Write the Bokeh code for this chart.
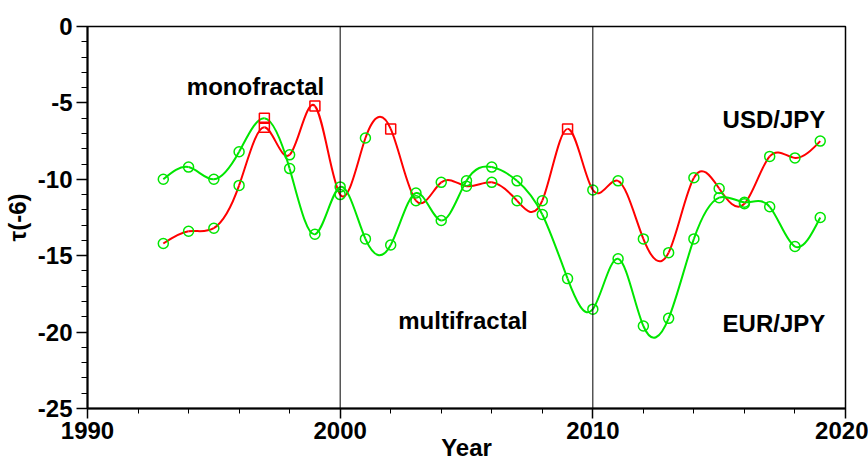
import numpy as np
from bokeh.plotting import figure
from bokeh.models import Span, Label, ColumnDataSource, FixedTicker
from bokeh.embed import file_html
from bokeh.resources import INLINE

# tau(-6) per year for the two currency pairs
years = list(range(1993, 2020))
usd_jpy = [-14.2, -13.4, -13.2, -10.4, -6.6, -8.4, -5.2, -11.0, -7.3, -6.7,
           -11.4, -10.2, -10.45, -10.2, -11.4, -11.4, -6.7, -10.7, -10.1, -13.9,
           -14.8, -9.9, -10.6, -11.6, -8.5, -8.6, -7.5]
eur_jpy = [-10.0, -9.2, -10.0, -8.2, -6.0, -9.3, -13.6, -10.5, -13.9, -14.3,
           -10.9, -12.7, -10.1, -9.2, -10.1, -12.3, -16.5, -18.5, -15.2, -19.6,
           -19.1, -13.9, -11.2, -11.5, -11.8, -14.4, -12.5]

# years classified as monofractal (square markers); all others are multifractal
usd_mono = [1997, 1999, 2002, 2009]
eur_mono = [1997]

x_ticks = [1990, 2000, 2010, 2020]
y_ticks = [0, -5, -10, -15, -20, -25]
period_breaks = [2000, 2010]

RED = "#ff0000"
GREEN = "#00e600"
FONT = "Liberation Sans"


def spline_segments(x, y):
    """Natural cubic spline through (x, y), returned as cubic Bezier segments."""
    x = np.asarray(x, float)
    y = np.asarray(y, float)
    n = len(x)
    h = np.diff(x)
    A = np.zeros((n, n))
    b = np.zeros(n)
    A[0, 0] = A[-1, -1] = 1.0
    for i in range(1, n - 1):
        A[i, i - 1] = h[i - 1]
        A[i, i] = 2 * (h[i - 1] + h[i])
        A[i, i + 1] = h[i]
        b[i] = 6 * ((y[i + 1] - y[i]) / h[i] - (y[i] - y[i - 1]) / h[i - 1])
    M = np.linalg.solve(A, b)
    slope = np.empty(n)
    slope[:-1] = (y[1:] - y[:-1]) / h - h * (2 * M[:-1] + M[1:]) / 6
    slope[-1] = (y[-1] - y[-2]) / h[-1] + h[-1] * (M[-2] + 2 * M[-1]) / 6
    return dict(x0=x[:-1], y0=y[:-1], x1=x[1:], y1=y[1:],
                cx0=x[:-1] + h / 3, cy0=y[:-1] + h * slope[:-1] / 3,
                cx1=x[1:] - h / 3, cy1=y[1:] - h * slope[1:] / 3)


p = figure(width=868, height=466, x_range=(1990, 2020), y_range=(-25, 0),
           output_backend="svg", toolbar_location=None,
           min_border_left=87, min_border_right=23,
           min_border_top=26, min_border_bottom=58)
p.background_fill_color = "white"
p.border_fill_color = "white"
p.outline_line_color = "black"
p.outline_line_width = 1.5
p.grid.visible = False

for loc in period_breaks:
    p.add_layout(Span(location=loc, dimension="height",
                      line_color="black", line_width=1))

# smooth curves
for vals, col in ((usd_jpy, RED), (eur_jpy, GREEN)):
    src = ColumnDataSource(spline_segments(years, vals))
    p.bezier(x0="x0", y0="y0", x1="x1", y1="y1", cx0="cx0", cy0="cy0",
             cx1="cx1", cy1="cy1", source=src, line_color=col, line_width=2)

# markers
for vals, mono in ((usd_jpy, usd_mono), (eur_jpy, eur_mono)):
    cx = [yr for yr in years if yr not in mono]
    cy = [v for yr, v in zip(years, vals) if yr not in mono]
    sx = [yr for yr in years if yr in mono]
    sy = [v for yr, v in zip(years, vals) if yr in mono]
    p.scatter(cx, cy, marker="circle", size=10, fill_color=None,
              line_color=GREEN, line_width=1.5)
    p.scatter(sx, sy, marker="square", size=10, fill_color=None,
              line_color=RED, line_width=1.5)

# axes
p.xaxis.ticker = FixedTicker(ticks=x_ticks, minor_ticks=list(range(1990, 2021, 2)))
p.yaxis.ticker = FixedTicker(ticks=y_ticks, minor_ticks=list(range(-25, 1)))
p.xaxis.major_label_overrides = {t: str(t) for t in x_ticks}
p.yaxis.major_label_overrides = {t: str(t) for t in y_ticks}
for ax in (p.xaxis, p.yaxis):
    ax.axis_line_width = 2
    ax.axis_line_color = "black"
    ax.major_tick_line_width = 1.5
    ax.minor_tick_line_width = 1
    ax.major_tick_line_color = "black"
    ax.minor_tick_line_color = "black"
    ax.major_tick_in = 0
    ax.minor_tick_in = 0
    ax.major_label_text_font = FONT
    ax.major_label_text_font_style = "bold"
    ax.major_label_text_font_size = "24px"
    ax.major_label_text_color = "black"
    ax.axis_label_text_font = FONT
    ax.axis_label_text_font_style = "bold"
    ax.axis_label_text_font_size = "24px"
    ax.axis_label_text_color = "black"
p.xaxis.major_tick_out = 10
p.xaxis.minor_tick_out = 5
p.xaxis.major_label_standoff = 3
p.xaxis.axis_label = "Year"
p.xaxis.axis_label_standoff = -8
p.yaxis.major_tick_out = 11
p.yaxis.minor_tick_out = 6
p.yaxis.major_label_standoff = 4
p.yaxis.axis_label = "τ(-6)"
p.yaxis.axis_label_standoff = 4

notes = [
    ("monofractal", 1996.65, -3.93, "center"),
    ("multifractal", 2004.86, -19.24, "center"),
    ("USD/JPY", 2019.2, -6.1, "right"),
    ("EUR/JPY", 2019.2, -19.46, "right"),
]
for txt, nx, ny, align in notes:
    p.add_layout(Label(x=nx, y=ny, text=txt, text_align=align,
                       text_baseline="alphabetic", text_font=FONT,
                       text_font_style="bold", text_font_size="24px",
                       text_color="black"))

open("out.html", "w").write(file_html(p, INLINE))
